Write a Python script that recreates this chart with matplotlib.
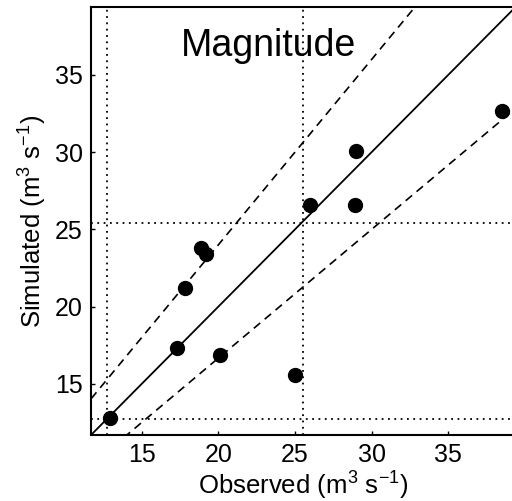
import numpy as np
import matplotlib
matplotlib.use('Agg')
import matplotlib.pyplot as plt

plt.rcParams['font.family'] = ['Liberation Sans', 'DejaVu Sans']
plt.rcParams['mathtext.fontset'] = 'custom'
plt.rcParams['mathtext.rm'] = 'Liberation Sans'
plt.rcParams['mathtext.it'] = 'Liberation Sans'

# observed vs simulated magnitude
observed = [12.9, 17.3, 20.1, 25.0, 17.8, 18.9, 19.2, 26.0, 28.9, 29.0, 38.5]
simulated = [12.8, 17.3, 16.9, 15.6, 21.2, 23.8, 23.4, 26.6, 26.6, 30.1, 32.7]
ref_low = 12.75    # dotted lines (lower)
ref_x = 25.5       # dotted vertical line
ref_y = 25.4       # dotted horizontal line
ticks = [15, 20, 25, 30, 35]
lims = (11.7, 39.4)

fig = plt.figure(figsize=(5.12, 5.01), dpi=100)
ax = fig.add_axes([0.178, 0.132, 0.829, 0.854])

line = np.array(lims)
ax.plot(line, line, color='black', lw=1.3)
ax.plot(line, line * 1.2, color='black', lw=1.2, ls=(0, (5, 3.5)))
ax.plot(line, line / 1.2, color='black', lw=1.2, ls=(0, (5, 3.5)))

ax.axvline(ref_low, color='black', lw=1.3, ls=(0, (1, 2.5)))
ax.axhline(ref_low, color='black', lw=1.3, ls=(0, (1, 2.5)))
ax.axvline(ref_x, color='black', lw=1.3, ls=(0, (1, 2.5)))
ax.axhline(ref_y, color='black', lw=1.3, ls=(0, (1, 2.5)))

ax.plot(observed, simulated, 'o', color='black', ms=10)

ax.text(23.3, 36.2, 'Magnitude', fontsize=27, ha='center', va='baseline')

ax.set_xlim(lims)
ax.set_ylim(lims)
ax.set_xticks(ticks)
ax.set_yticks(ticks)
ax.tick_params(direction='in', length=3, width=1, labelsize=18, pad=6)
ax.spines['right'].set_visible(False)
for s in ['left', 'bottom', 'top']:
    ax.spines[s].set_linewidth(1.5)

ax.set_xlabel('Observed (m$^3$ s$^{-1}$)', fontsize=18.5, labelpad=2)
ax.set_ylabel('Simulated (m$^3$ s$^{-1}$)', fontsize=18.5, labelpad=4)

plt.savefig('out.png', dpi=100)
